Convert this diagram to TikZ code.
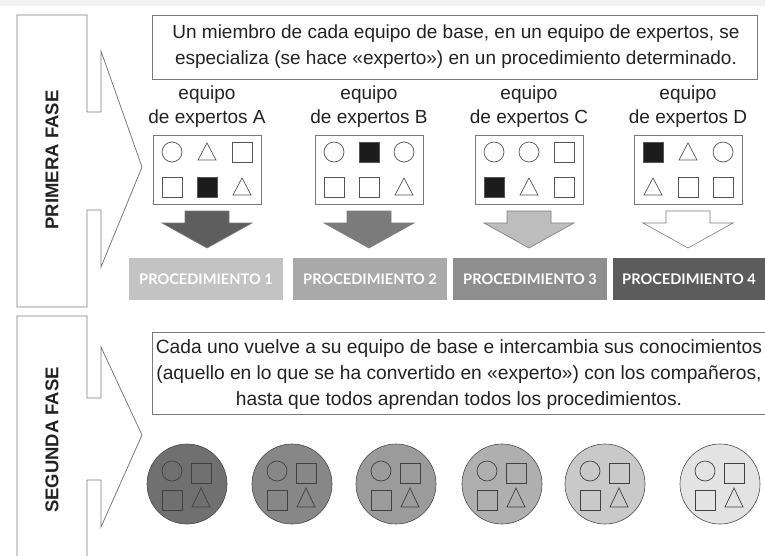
\documentclass[tikz,border=0pt]{standalone}
\usepackage{fontspec}
\setmainfont{Liberation Sans}
\newfontfamily\procfont{Lato}
\definecolor{lineg}{HTML}{7A7A7A}
\definecolor{shpline}{HTML}{555555}
\definecolor{inkblack}{HTML}{1C1C1C}
\definecolor{arrA}{HTML}{5E5E5E}
\definecolor{arrB}{HTML}{7B7B7B}
\definecolor{arrC}{HTML}{BDBDBD}
\definecolor{procA}{HTML}{C3C3C3}
\definecolor{procB}{HTML}{A9A9A9}
\definecolor{procC}{HTML}{8E8E8E}
\definecolor{procD}{HTML}{5C5C5C}
\definecolor{cirA}{HTML}{707070}
\definecolor{cirB}{HTML}{878787}
\definecolor{cirC}{HTML}{9B9B9B}
\definecolor{cirD}{HTML}{AFAFAF}
\definecolor{cirE}{HTML}{C9C9C9}
\definecolor{cirF}{HTML}{E3E3E3}
\definecolor{txtg}{HTML}{222222}
\newcommand\ShC[2]{\draw[shp] (#1,#2) circle (10);}
\newcommand\ShS[2]{\draw[shp] ({#1-10},{#2-10}) rectangle ({#1+10},{#2+10});}
\newcommand\ShF[2]{\filldraw[shp,fill=inkblack] ({#1-10},{#2-10}) rectangle ({#1+10},{#2+10});}
\newcommand\ShT[2]{\draw[shp] ({#1-9},{#2+8}) -- (#1,{#2-9}) -- ({#1+9},{#2+8}) -- cycle;}
\newcommand\DownArr[2]{\filldraw[arrowshape,fill=#2] ({#1-22},211) -- ({#1+22},211) -- ({#1+22},223) -- ({#1+45},223) -- (#1,248) -- ({#1-45},223) -- ({#1-22},223) -- cycle;}
\newcommand\Team[2]{%
  \filldraw[groupcircle,fill=#2] (#1,484) circle (40);
  \draw[innershp] ({#1-15},471) circle (10);
  \draw[innershp] ({#1+4},463) rectangle ({#1+24},483);
  \draw[innershp] ({#1-25},490) rectangle ({#1-5},510);
  \draw[innershp] ({#1+5},507) -- ({#1+14},488) -- ({#1+23},507) -- cycle;}
\begin{document}
\begin{tikzpicture}[x=1pt,y=-1pt,
  phase/.style={draw=lineg,line width=0.8pt,line join=miter},
  phaselabel/.style={rotate=90,font=\fontsize{18.5}{20}\selectfont\bfseries,text=txtg},
  boxline/.style={draw=lineg,line width=0.8pt},
  maintext/.style={font=\fontsize{19}{26}\selectfont,text=txtg,align=center,inner sep=0pt},
  bottomtextstyle/.style={font=\fontsize{19.2}{26}\selectfont,text=txtg,align=center,inner sep=0pt},
  teamlabel/.style={font=\fontsize{19}{24}\selectfont,text=txtg,align=center,inner sep=0pt},
  shp/.style={draw=shpline,line width=0.7pt},
  arrowshape/.style={draw=lineg,line width=0.6pt,line join=miter},
  proctext/.style={font=\procfont\bfseries\fontsize{14.6}{16}\selectfont,text=white,inner sep=0pt},
  groupcircle/.style={draw=gray!60!black,line width=0.6pt},
  innershp/.style={draw=black!75,line width=0.7pt}]
\useasboundingbox (0,0) rectangle (765,555);
\clip (0,0) rectangle (765,555);
\fill[gray!10] (0,0) rectangle (765,6);
% phase shapes
\draw[phase] (17,15) -- (87,15) -- (87,112) -- (101,112) -- (101,51) -- (142,167) -- (101,267) -- (101,210) -- (87,210) -- (87,307) -- (17,307) -- cycle;
\node[phaselabel] (f1) at (52,160) {PRIMERA FASE};
\draw[phase] (17,560) -- (17,316) -- (87,316) -- (87,398) -- (101,398) -- (101,347) -- (142,435) -- (101,527) -- (101,480) -- (87,480) -- (87,560);
\node[phaselabel] (f2) at (52,440) {SEGUNDA FASE};
% top text
\draw[boxline] (152,15) rectangle (757,79);
\node[maintext] (toptext) at (456,47) {Un miembro de cada equipo de base, en un equipo de expertos, se\\especializa (se hace «experto») en un procedimiento determinado.};
% team labels
\node[teamlabel] (lA) at (207,107) {equipo\\de expertos A};
\node[teamlabel] (lB) at (369,107) {equipo\\de expertos B};
\node[teamlabel] (lC) at (529,107) {equipo\\de expertos C};
\node[teamlabel] (lD) at (688,107) {equipo\\de expertos D};
% boxes
\draw[boxline] (153,135) rectangle (261,204);
\draw[boxline] (315,135) rectangle (423,204);
\draw[boxline] (475,135) rectangle (583,204);
\draw[boxline] (634,135) rectangle (742,204);
% box A
\ShC{172}{152} \ShT{207}{152} \ShS{242}{152}
\ShS{172}{187} \ShF{207}{187} \ShT{242}{187}
% box B
\ShC{334}{152} \ShF{369}{152} \ShC{404}{152}
\ShS{334}{187} \ShS{369}{187} \ShT{404}{187}
% box C
\ShC{494}{152} \ShC{529}{152} \ShS{564}{152}
\ShF{494}{187} \ShT{529}{187} \ShS{564}{187}
% box D
\ShF{653}{152} \ShT{688}{152} \ShC{723}{152}
\ShT{653}{187} \ShS{688}{187} \ShS{723}{187}
% arrows
\DownArr{207}{arrA}
\DownArr{369}{arrB}
\DownArr{529}{arrC}
\DownArr{688}{white}
% procedures
\fill[procA] (129,258) rectangle (283,300);
\fill[procB] (293,258) rectangle (447,300);
\fill[procC] (453,258) rectangle (607,300);
\fill[procD] (613,258) rectangle (767,300);
\node[proctext] (p1) at (206,279) {PROCEDIMIENTO 1};
\node[proctext] (p2) at (370,279) {PROCEDIMIENTO 2};
\node[proctext] (p3) at (530,279) {PROCEDIMIENTO 3};
\node[proctext] (p4) at (689,279) {PROCEDIMIENTO 4};
% second text
\draw[boxline] (775,332) -- (152,332) -- (152,414) -- (775,414);
\node[bottomtextstyle] (bottomtext) at (459,375) {Cada uno vuelve a su equipo de base e intercambia sus conocimientos\\(aquello en lo que se ha convertido en «experto») con los compañeros,\\hasta que todos aprendan todos los procedimientos.};
% teams
\Team{187}{cirA}
\Team{292}{cirB}
\Team{396}{cirC}
\Team{502}{cirD}
\Team{605}{cirE}
\Team{720}{cirF}
\end{tikzpicture}
\end{document}
